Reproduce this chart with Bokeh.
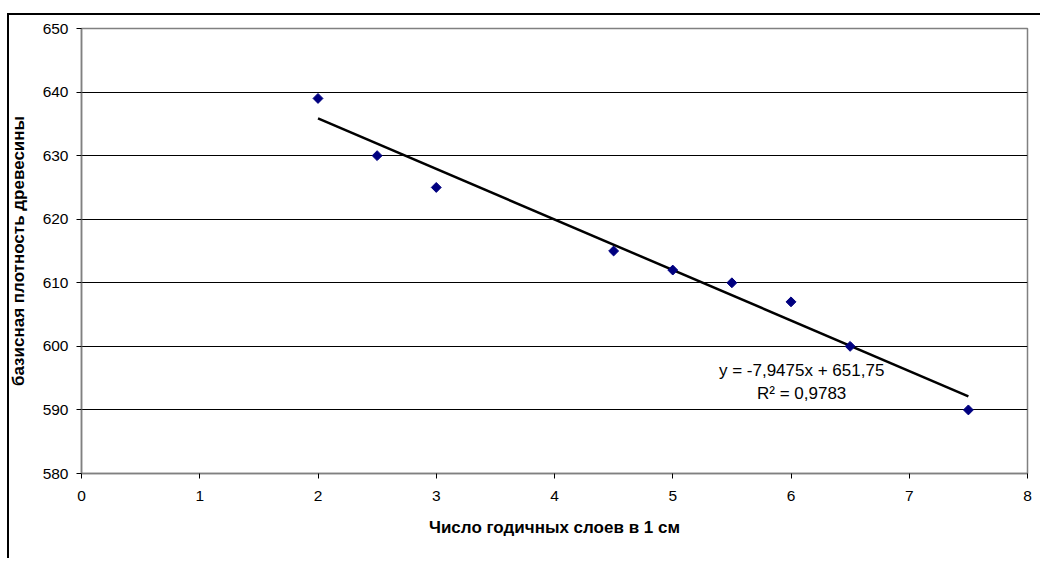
import math
from bokeh.plotting import figure
from bokeh.models import ColumnDataSource, Label, FixedTicker, Range1d
from bokeh.embed import file_html
from bokeh.resources import INLINE

# data
x_layers = [2, 2.5, 3, 4.5, 5, 5.5, 6, 6.5, 7.5]
density = [639, 630, 625, 615, 612, 610, 607, 600, 590]
slope = -7.9475
intercept = 651.75
x_ticks = [0, 1, 2, 3, 4, 5, 6, 7, 8]
y_ticks = [580, 590, 600, 610, 620, 630, 640, 650]
x_title = "Число годичных слоев в 1 см"
y_title = "базисная плотность древесины"
eq_text = "y = -7,9475x + 651,75"
r2_text = "R² = 0,9783"

FONT = "Liberation Sans"

frame_styles = {
    "background-color": "#ffffff",
    "background-image": "linear-gradient(#000, #000), linear-gradient(#000, #000)",
    "background-position": "7px 13px, 7px 13px",
    "background-size": "2px 3000px, 3000px 2px",
    "background-repeat": "no-repeat, no-repeat",
}

p = figure(width=1040, height=558, output_backend="svg", toolbar_location=None,
           x_range=Range1d(0, 8), y_range=Range1d(580, 650),
           styles=frame_styles,
           min_border_left=81, min_border_top=28, min_border_right=13, min_border_bottom=85)
p.background_fill_color = "white"
p.border_fill_color = None
p.outline_line_color = "#808080"
p.outline_line_width = 1.5

# axes
for ax in (p.xaxis[0], p.yaxis[0]):
    ax.axis_line_color = "#808080"
    ax.axis_line_width = 1.5
    ax.major_tick_line_color = "#000000"
    ax.major_tick_in = 0
    ax.major_tick_out = 5
    ax.minor_tick_line_color = None
    ax.major_label_text_font = FONT
    ax.major_label_text_font_size = "15.5px"
    ax.major_label_text_color = "#000000"
    ax.axis_label_text_font = FONT
    ax.axis_label_text_font_size = "17px"
    ax.axis_label_text_font_style = "bold"
    ax.axis_label_text_color = "#000000"

p.xaxis.ticker = FixedTicker(ticks=x_ticks)
p.yaxis.ticker = FixedTicker(ticks=y_ticks)
p.xaxis.axis_label = x_title
p.yaxis.axis_label = y_title
p.xaxis.major_label_standoff = 12
p.xaxis.axis_label_standoff = 14
p.yaxis.major_label_standoff = 8
p.yaxis.axis_label_standoff = 12

p.xgrid.grid_line_color = None
p.ygrid.ticker = FixedTicker(ticks=y_ticks)
p.ygrid.grid_line_color = "#000000"
p.ygrid.grid_line_width = 1

# trend line
tx = [min(x_layers), max(x_layers)]
ty = [slope * v + intercept for v in tx]
p.line(tx, ty, line_color="black", line_width=2.5)

src = ColumnDataSource(dict(x=x_layers, y=density))
p.scatter("x", "y", source=src, marker="square", size=7, angle=math.pi / 4,
          fill_color="#000080", line_color="#000080")

p.add_layout(Label(x=6.09, y=596.2, text=eq_text, text_align="center", text_baseline="middle",
                   text_font=FONT, text_font_size="17px", text_color="black"))
p.add_layout(Label(x=6.09, y=592.6, text=r2_text, text_align="center", text_baseline="middle",
                   text_font=FONT, text_font_size="17px", text_color="black"))

open("out.html", "w").write(file_html(p, INLINE))
